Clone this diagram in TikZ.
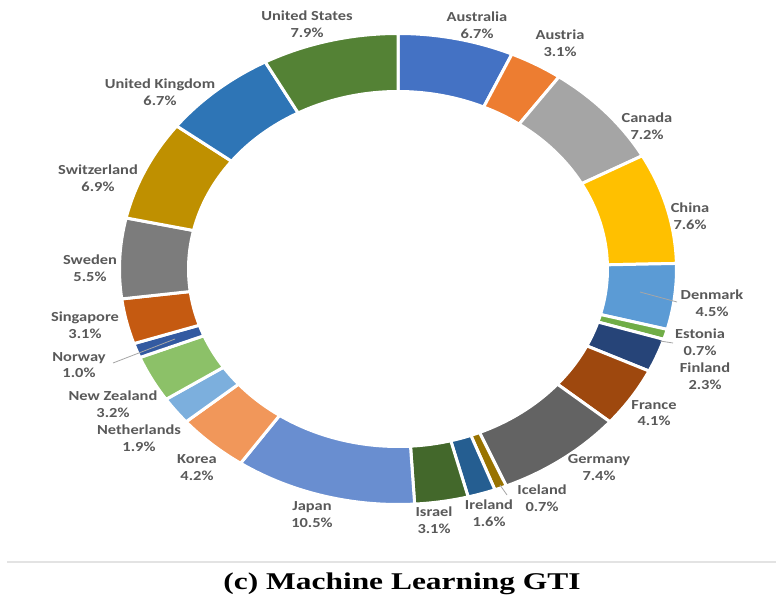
\documentclass[tikz,border=0pt]{standalone}
\usepackage{fontspec}
\newfontfamily\lblfont[FakeStretch=1.19]{Carlito}
\newfontfamily\capfont[FakeStretch=1.31]{Liberation Serif}

% slice colours (Office palette)
\definecolor{cAustralia}{HTML}{4472C4}
\definecolor{cAustria}{HTML}{ED7D31}
\definecolor{cCanada}{HTML}{A5A5A5}
\definecolor{cChina}{HTML}{FFC000}
\definecolor{cDenmark}{HTML}{5B9BD5}
\definecolor{cEstonia}{HTML}{70AD47}
\definecolor{cFinland}{HTML}{264478}
\definecolor{cFrance}{HTML}{9E480E}
\definecolor{cGermany}{HTML}{636363}
\definecolor{cIceland}{HTML}{997300}
\definecolor{cIreland}{HTML}{255E91}
\definecolor{cIsrael}{HTML}{43682B}
\definecolor{cJapan}{HTML}{698ED0}
\definecolor{cKorea}{HTML}{F1975A}
\definecolor{cNetherlands}{HTML}{7CAFDD}
\definecolor{cNewZealand}{HTML}{8CC168}
\definecolor{cNorway}{HTML}{335AA1}
\definecolor{cSingapore}{HTML}{C55A11}
\definecolor{cSweden}{HTML}{7C7C7C}
\definecolor{cSwitzerland}{HTML}{BF9000}
\definecolor{cUK}{HTML}{2E75B6}
\definecolor{cUS}{HTML}{548235}
\definecolor{lblgray}{HTML}{595959}
\definecolor{leadgray}{HTML}{A6A6A6}
\definecolor{rulegray}{HTML}{E3E3E3}

\begin{document}
\begin{tikzpicture}[x=1pt,y=1pt,
  lbl/.style={font=\lblfont\bfseries\fontsize{13.8}{16.7}\selectfont,
    text=lblgray, align=center, inner sep=0pt},
  leader/.style={draw=leadgray, line width=0.8pt},
  slice/.style={draw=white, line width=3pt, line join=miter}]
\useasboundingbox (0,0) rectangle (776,600);
\fill[white] (0,0) rectangle (776,600);

% donut centred at (398,331): outer ring 278.5 x 235.5, hole 209.5 x 177.5
\coordinate (ctr) at (398,331);

% donut slices, clockwise from twelve o'clock (cumulative shares of 99.9)
\foreach \s/\e/\col in {
  0/6.7/cAustralia, 6.7/9.8/cAustria, 9.8/17.0/cCanada, 17.0/24.6/cChina,
  24.6/29.1/cDenmark, 29.1/29.8/cEstonia, 29.8/32.1/cFinland,
  32.1/36.2/cFrance, 36.2/43.6/cGermany, 43.6/44.3/cIceland,
  44.3/45.9/cIreland, 45.9/49.0/cIsrael, 49.0/59.5/cJapan,
  59.5/63.7/cKorea, 63.7/65.6/cNetherlands, 65.6/68.8/cNewZealand,
  68.8/69.8/cNorway, 69.8/72.9/cSingapore, 72.9/78.4/cSweden,
  78.4/85.3/cSwitzerland, 85.3/92.0/cUK, 92.0/99.9/cUS}{
  \pgfmathsetmacro\a{90-3.6036*\s}
  \pgfmathsetmacro\b{90-3.6036*\e}
  \pgfmathsetmacro\xo{398+278.5*cos(\a)}
  \pgfmathsetmacro\yo{331+235.5*sin(\a)}
  \pgfmathsetmacro\xi{398+209.5*cos(\b)}
  \pgfmathsetmacro\yi{331+177.5*sin(\b)}
  \filldraw[slice, fill=\col]
    (\xo,\yo)
      arc[start angle=\a, end angle=\b, x radius=278.5, y radius=235.5]
    -- (\xi,\yi)
      arc[start angle=\b, end angle=\a, x radius=209.5, y radius=177.5]
    -- cycle;
}

% data labels
\node[lbl] (lAustralia)   at (477,574.5) {Australia\\6.7\%};
\node[lbl] (lAustria)     at (560,556.5) {Austria\\3.1\%};
\node[lbl] (lCanada)      at (647,473.5) {Canada\\7.2\%};
\node[lbl] (lChina)       at (690,383.5) {China\\7.6\%};
\node[lbl] (lDenmark)     at (712,296.5) {Denmark\\4.5\%};
\node[lbl] (lEstonia)     at (700,257.5) {Estonia\\0.7\%};
\node[lbl] (lFinland)     at (705,224)   {Finland\\2.3\%};
\node[lbl] (lFrance)      at (654,187)   {France\\4.1\%};
\node[lbl] (lGermany)     at (599,132.5) {Germany\\7.4\%};
\node[lbl] (lIceland)     at (542,102)   {Iceland\\0.7\%};
\node[lbl] (lIreland)     at (489,86.5)  {Ireland\\1.6\%};
\node[lbl] (lIsrael)      at (434,80)    {Israel\\3.1\%};
\node[lbl] (lJapan)       at (312,85.5)  {Japan\\10.5\%};
\node[lbl] (lKorea)       at (197,132.5) {Korea\\4.2\%};
\node[lbl] (lNetherlands) at (139,162)   {Netherlands\\1.9\%};
\node[lbl] (lNewZealand)  at (113,195.5) {New Zealand\\3.2\%};
\node[lbl] (lNorway)      at (79,235)    {Norway\\1.0\%};
\node[lbl] (lSingapore)   at (85,275)    {Singapore\\3.1\%};
\node[lbl] (lSweden)      at (90,331.5)  {Sweden\\5.5\%};
\node[lbl] (lSwitzerland) at (98,421.5)  {Switzerland\\6.9\%};
\node[lbl] (lUK)          at (160,507.5) {United Kingdom\\6.7\%};
\node[lbl] (lUS)          at (307,576)   {United States\\7.9\%};

% leader lines from thin slices to their labels
\coordinate (dkIn)  at (640,308); \coordinate (dkOut) at (677,298);
\coordinate (esIn)  at (660,259); \coordinate (esOut) at (673,257);
\coordinate (noIn)  at (175,261); \coordinate (noOut) at (113,237);
\coordinate (icIn)  at (500,115); \coordinate (icOut) at (507,105);
\draw[leader] (dkIn) -- (dkOut);
\draw[leader] (esIn) -- (esOut);
\draw[leader] (noIn) -- (noOut);
\draw[leader] (icIn) -- (icOut);

% rule and caption
\coordinate (ruleL) at (7,38); \coordinate (ruleR) at (776,38);
\draw[rulegray, line width=2pt] (ruleL) -- (ruleR);
\node[anchor=base, inner sep=0pt, font=\capfont\bfseries\fontsize{24}{28}\selectfont]
  (caption) at (402,11) {(c) Machine Learning GTI};
\end{tikzpicture}
\end{document}
